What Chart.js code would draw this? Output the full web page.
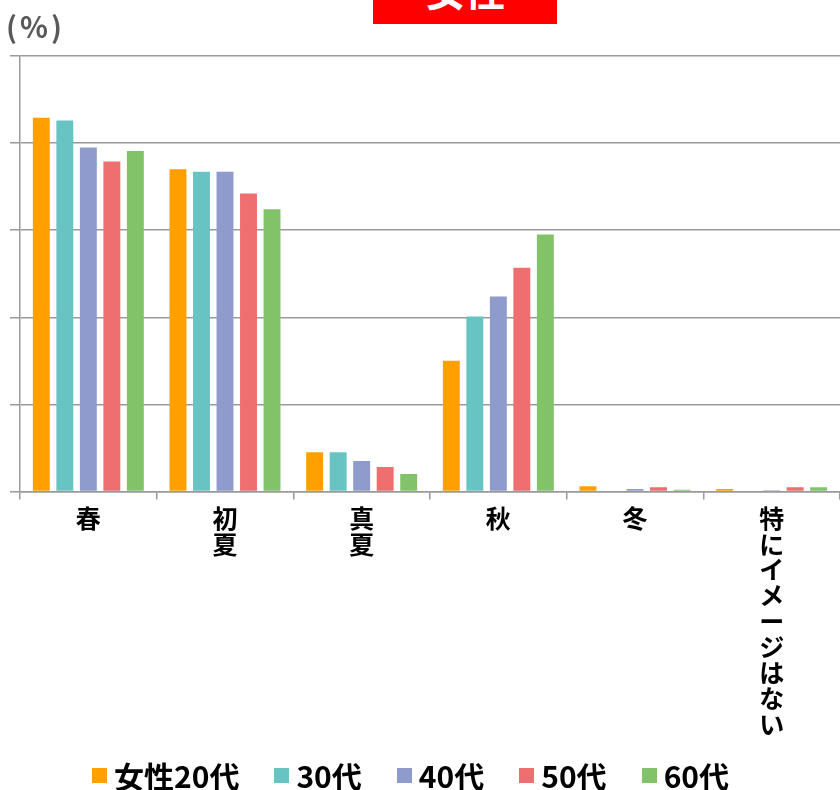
<!DOCTYPE html>
<html>
<head>
<meta charset="utf-8">
<script src="https://cdn.jsdelivr.net/npm/chart.js@4/dist/chart.umd.min.js"></script>
<style>
    html, body { margin: 0; padding: 0; background: #fff; overflow: hidden; }
    #wrap { position: relative; width: 840px; height: 790px; }
    #unit {
        position: absolute; left: 6px; top: 11px;
        font: bold 29px/29px 'Noto Sans CJK JP', sans-serif; color: #595959;
        letter-spacing: 3px;
    }
    #title {
        position: absolute; left: 373px; top: -40px; width: 184px; height: 64px;
        background: #ff0000; overflow: hidden;
    }
    #title span {
        position: absolute; left: 0; right: 0; top: 9px; text-align: center;
        font: bold 40px/40px 'Noto Sans CJK JP', sans-serif; color: #fff;
    }
    #legend {
        position: absolute; left: 92px; top: 760px; height: 30px;
        display: flex; align-items: center; gap: 35px;
        font: bold 30px/30px 'Noto Sans CJK JP', sans-serif; color: #000;
    }
    #legend .item { display: flex; align-items: center; gap: 7px; }
    #legend .box { width: 15px; height: 15px; }
</style>
</head>
<body>
<div id="wrap">
    <canvas id="seasonChart" width="840" height="790"></canvas>
    <div id="unit">(%)</div>
    <div id="title"><span>女性</span></div>
    <div id="legend"></div>
</div>
<script>
const categories = ['春', '初夏', '真夏', '秋', '冬', '特にイメージはない'];
const seriesNames = ['女性20代', '30代', '40代', '50代', '60代'];
const age20 = [42.9, 37.0, 4.5, 15.0, 0.6, 0.3];
const age30 = [42.6, 36.7, 4.5, 20.1, 0.1, 0.1];
const age40 = [39.5, 36.7, 3.5, 22.4, 0.3, 0.15];
const age50 = [37.9, 34.2, 2.8, 25.7, 0.5, 0.5];
const age60 = [39.1, 32.4, 2.0, 29.5, 0.2, 0.5];
const yTicks = [0, 10, 20, 30, 40, 50];

const colors = ['#ffa000', '#67c4c2', '#8e9bcc', '#ef6e70', '#82c369'];
const gridGray = '#9a9a9a';

document.addEventListener('DOMContentLoaded', () => {
    createSeasonChart();
    buildLegend();
});

function createSeasonChart() {
    const ctx = document.getElementById('seasonChart').getContext('2d');
    const values = [age20, age30, age40, age50, age60];
    new Chart(ctx, {
        type: 'bar',
        data: {
            // stack each label vertically, one character per line
            labels: categories.map(c => Array.from(c)),
            datasets: seriesNames.map((name, i) => ({
                label: name,
                data: values[i],
                backgroundColor: colors[i],
                borderWidth: 0,
                categoryPercentage: 0.86,
                barPercentage: 0.72
            }))
        },
        options: {
            responsive: false,
            animation: false,
            layout: {
                padding: { left: 10, right: 0, top: 56, bottom: 43.5 }
            },
            scales: {
                x: {
                    grid: {
                        drawOnChartArea: false,
                        drawTicks: true,
                        tickLength: 8,
                        color: gridGray,
                        lineWidth: 1.5
                    },
                    border: { color: gridGray, width: 1.5 },
                    ticks: {
                        autoSkip: false,
                        maxRotation: 0,
                        minRotation: 0,
                        padding: 6,
                        color: '#000',
                        font: { family: "'Noto Sans CJK JP', sans-serif", size: 25, weight: 'bold', lineHeight: 1.03 }
                    },
                    afterFit: (scale) => { scale.height = 255; }
                },
                y: {
                    min: yTicks[0],
                    max: yTicks[yTicks.length - 1],
                    afterBuildTicks: (scale) => { scale.ticks = yTicks.map(v => ({ value: v })); },
                    grid: {
                        color: gridGray,
                        lineWidth: 1.5,
                        drawTicks: true,
                        tickLength: 10
                    },
                    border: { color: gridGray, width: 1.5 },
                    ticks: { display: false }
                }
            },
            plugins: {
                legend: { display: false },
                tooltip: { enabled: false }
            }
        }
    });
}

function buildLegend() {
    const legend = document.getElementById('legend');
    seriesNames.forEach((name, i) => {
        const item = document.createElement('div');
        item.className = 'item';
        const box = document.createElement('span');
        box.className = 'box';
        box.style.background = colors[i];
        const text = document.createElement('span');
        text.textContent = name;
        item.appendChild(box);
        item.appendChild(text);
        legend.appendChild(item);
    });
}
</script>
</body>
</html>
